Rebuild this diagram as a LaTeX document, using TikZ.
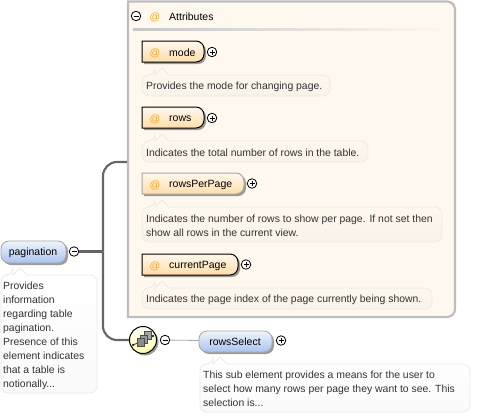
\documentclass[tikz,border=0pt]{standalone}
\usepackage{fontspec}
\setmainfont{Liberation Sans}
\usetikzlibrary{shadows,calc}
\definecolor{panel}{HTML}{FFF8EE}
\definecolor{panelline}{HTML}{BDBDBD}
\definecolor{trunk}{HTML}{666666}
\definecolor{noteline}{HTML}{EEEAE2}
\definecolor{notebot}{HTML}{F8F3E9}
\definecolor{whitebot}{HTML}{FAFAFA}
\definecolor{txt}{HTML}{333333}
\definecolor{at}{HTML}{F5A623}
\definecolor{attrbot}{HTML}{FFDDAA}
\definecolor{elemtop}{HTML}{F0F4FC}
\definecolor{elembot}{HTML}{A9C3EE}
\tikzset{
  x=1pt,y=-1pt,
  every node/.style={font=\fontsize{10.5}{14}\selectfont,text=black,inner sep=0pt},
  lab/.style={yshift=-1pt},
  toggle/.style={circle,draw=black,fill=white,line width=0.8pt,minimum size=9.5pt},
  softshadow/.style={drop shadow={shadow xshift=2pt,shadow yshift=-2pt,fill=black!70,opacity=.55}},
  attrbox/.style={draw=black,line width=1pt,top color=panel,bottom color=attrbot,softshadow},
  optbox/.style={draw=black!35,line width=1pt,top color=panel,bottom color=attrbot,softshadow},
  elembox/.style={draw=black!35,line width=.8pt,top color=elemtop,bottom color=elembot,
    rounded corners=8pt,softshadow},
  notefill/.style={draw=noteline,line width=.8pt},
  notetxt/.style={anchor=west,text=txt,align=left,yshift=-1pt,font=\fontsize{10.42}{14}\selectfont},
  conn/.style={draw=trunk,line width=2.1pt},
  thinconn/.style={draw=black!35,line width=.8pt},
}
% #1 x0, #2 y0, #3 x1, #4 y1, #5 notch x, #6 top colour, #7 bottom colour
\newcommand{\notebox}[7]{%
  \path[notefill,top color=#6,bottom color=#7]
   (#5-7,#2) -- (#5,#2-7) -- (#5+7,#2)
   [rounded corners=7pt] -- (#3,#2) -- (#3,#4) -- (#1,#4) -- (#1,#2) -- (#5-7,#2)
   [sharp corners] -- cycle;}
\newcommand{\attrshape}[6]{% style name x0 y0 x1 y1
  \path[#1] (#3,#4) [rounded corners=8pt] -- (#5,#4) -- (#5,#6) [sharp corners] -- (#3,#6) -- cycle;
  \coordinate (#2) at (#3,#4/2+#6/2);}
\newcommand{\plusmark}[1]{\draw[line width=.8pt] ($(#1)+(-2.5,0)$) -- ($(#1)+(2.5,0)$) ($(#1)+(0,-2.5)$) -- ($(#1)+(0,2.5)$);}
\newcommand{\minusmark}[1]{\draw[line width=.8pt] ($(#1)+(-2.5,0)$) -- ($(#1)+(2.5,0)$);}
\begin{document}
\begin{tikzpicture}
\useasboundingbox (0,0) rectangle (493,416);
\fill[white] (0,0) rectangle (493,416);
% panel
\draw[draw=panelline,line width=2.2pt,fill=panel]
  (128,1.5) [rounded corners=8pt] -- (455,1.5) -- (455,317) [sharp corners] -- (128,317) -- cycle;
\shade[left color=black!22,right color=panel] (133,28.5) rectangle (450,30);
\node[toggle] (tattr) at (136,16) {}; \minusmark{tattr}
\node[text=at,lab] (aattr) at (155,16) {@};
\node[anchor=west,lab] (lattr) at (169,16) {Attributes};
% connectors
\node[toggle] (tpag) at (74,251.5) {}; \minusmark{tpag}
\coordinate (topend) at (127,162);
\coordinate (junc) at (103,251.5);
\node[circle,draw=black,line width=1pt,top color=white,bottom color=yellow!35!white,minimum size=27pt,softshadow] (seq) at (143,340) {};
\draw[conn] (tpag) -- (junc);
\draw[conn,rounded corners=14pt] (topend) -- (103,162) -- (junc);
\draw[conn,rounded corners=14pt] (junc) -- (103,340) -- (seq);
% sequence icon
\draw[line width=.9pt,black!75] (133,345) -- (153,336);
\fill[black!80] (133,345) circle (1.4pt) (153,336) circle (1.4pt);
\draw[black!70,fill=black!35,line width=.6pt] (144,331.5) rectangle (151,339.5);
\draw[black!70,fill=black!40,line width=.6pt] (140,335) rectangle (147,343);
\draw[black!70,fill=black!45,line width=.6pt] (137,338.5) rectangle (144,346.5);
% attributes
\attrshape{attrbox}{bmode}{142}{41}{204}{62}
\node[text=at,lab] (amode) at (155,52) {@};
\node[anchor=west,lab] (lmode) at (169,52) {mode};
\node[toggle] (pmode) at (212,52) {}; \plusmark{pmode}
\notebox{142}{75}{330}{96}{162}{panel}{notebot}
\node[notetxt] (nmode) at (146,86) {Provides the mode for changing page.};

\attrshape{attrbox}{brows}{142}{107}{204}{128}
\node[text=at,lab] (arows) at (155,118) {@};
\node[anchor=west,lab] (lrows) at (169,118) {rows};
\node[toggle] (prows) at (212,118) {}; \plusmark{prows}
\notebox{142}{141}{368}{162}{162}{panel}{notebot}
\node[notetxt] (nrows) at (146,152) {Indicates the total number of rows in the table.};

\attrshape{optbox}{brpp}{142}{173}{244}{194}
\node[text=at,lab] (arpp) at (155,184) {@};
\node[anchor=west,lab] (lrpp) at (169,184) {rowsPerPage};
\node[toggle] (prpp) at (252,183.5) {}; \plusmark{prpp}
\notebox{142}{207}{442}{242}{162}{panel}{notebot}
\node[notetxt] (nrpp) at (146,224.5) {Indicates the number of rows to show per page. If not set then\\show all rows in the current view.};

\attrshape{attrbox}{bcur}{142}{254}{238}{275}
\node[text=at,lab] (acur) at (155,265) {@};
\node[anchor=west,lab] (lcur) at (169,265) {currentPage};
\node[toggle] (pcur) at (246,264.5) {}; \plusmark{pcur}
\notebox{142}{288}{432}{309}{162}{panel}{notebot}
\node[notetxt] (ncur) at (146,298.5) {Indicates the page index of the page currently being shown.};
% pagination
\path[elembox] (1,241) rectangle (66,263);
\node[lab] (lpag) at (33,252) {pagination};
\notebox{1}{275}{97}{393}{20}{white}{whitebot}
\node[notetxt] (npag) at (3,335) {Provides\\information\\regarding table\\pagination.\\Presence of this\\element indicates\\that a table is\\notionally...};
% rowsSelect
\node[toggle] (tseq) at (165,340) {}; \minusmark{tseq}
\path[elembox] (199,331) rectangle (272,352);
\node[lab] (lsel) at (235,341) {rowsSelect};
\coordinate (wsel) at (199,340.5);
\draw[thinconn] (tseq) -- (wsel);
\node[toggle] (psel) at (281,340.5) {}; \plusmark{psel}
\notebox{200}{364}{470}{412}{220}{white}{whitebot}
\node[notetxt] (nsel) at (203,388) {This sub element provides a means for the user to\\select how many rows per page they want to see. This\\selection is...};
\end{tikzpicture}
\end{document}
